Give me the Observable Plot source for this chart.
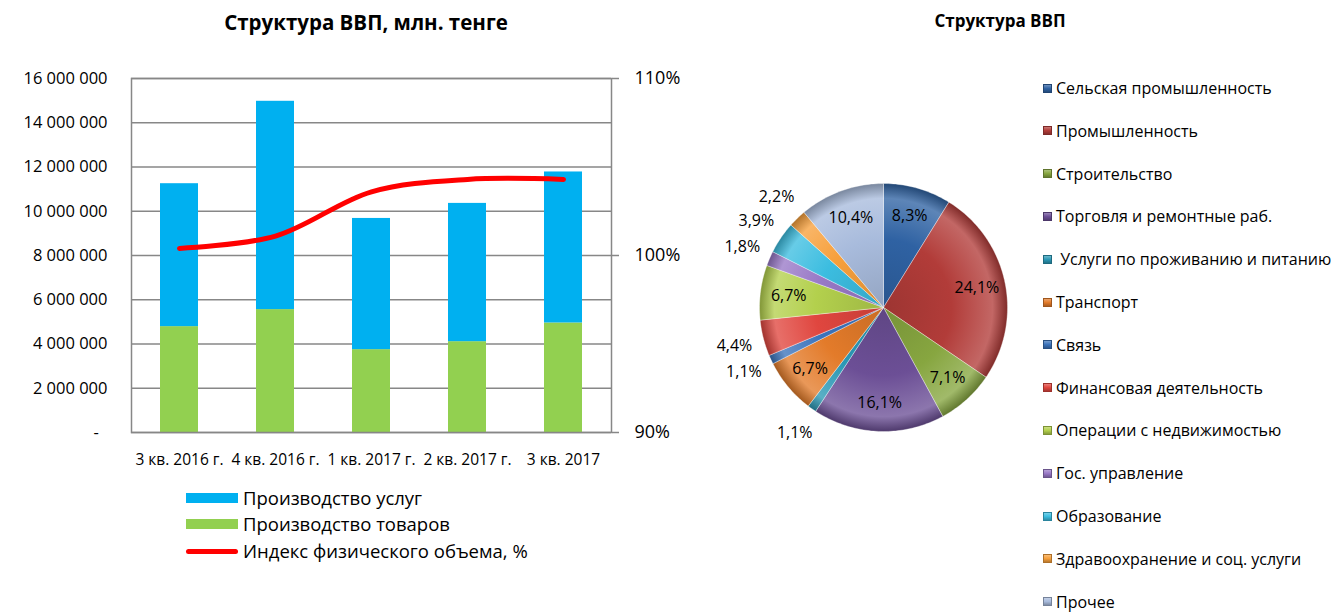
<!DOCTYPE html>
<html><head><meta charset="utf-8">
<script src="https://cdn.jsdelivr.net/npm/d3@7"></script>
<script src="https://cdn.jsdelivr.net/npm/@observablehq/plot@0.6"></script>
<style>
body{margin:0;width:1334px;height:613px;position:relative;background:#fff;font-family:"Open Sans",sans-serif;overflow:hidden;color:#000}
.abs{position:absolute}
#t1{left:166px;width:400px;top:8px;text-align:center;font-weight:bold;font-size:20.5px}
#t2{left:880px;width:240px;top:9px;text-align:center;font-weight:bold;font-size:17px}
#barsvg,#linesvg{left:0;top:40px}
#piesvg{left:703px;top:127px}
.lg{position:absolute;left:186px;font-size:18.5px;line-height:20px;display:flex;align-items:center}
.lg .sw{width:52px;height:10px;margin-right:5px}
.pl{position:absolute;left:1043px;font-size:16px;line-height:20px;display:flex;align-items:center;white-space:pre}
.pl .sq{width:9px;height:9px;margin-right:4px;box-sizing:border-box}
</style></head><body>
<div id="t1" class="abs">Структура ВВП, млн. тенге</div>
<div id="t2" class="abs">Структура ВВП</div>
<div id="barsvg" class="abs"></div>
<div id="linesvg" class="abs"></div>
<div id="piesvg" class="abs"></div>
<div id="leg1"></div>
<div id="leg2"></div>
<script>
// ---- data: left chart ----
const quarters = ["3 кв. 2016 г.", "4 кв. 2016 г.", "1 кв. 2017 г.", "2 кв. 2017 г.", "3 кв. 2017"];
const goods = [4785000, 5555000, 3745000, 4105000, 4950000];
const services = [6460000, 9415000, 5930000, 6250000, 6825000];
const volumeIndex = [100.4, 101.1, 103.6, 104.3, 104.3];
const yTicks = [0, 2000000, 4000000, 6000000, 8000000, 10000000, 12000000, 14000000, 16000000];
const pctTicks = [90, 100, 110];
const seriesNames = ["Производство услуг", "Производство товаров", "Индекс физического объема, %"];
const seriesColors = ["#00b0f0", "#92d050", "#ff0000"];

// ---- data: pie ----
const sectors = ["Сельская промышленность", "Промышленность", "Строительство", "Торговля и ремонтные раб.", " Услуги по проживанию и питанию", "Транспорт", "Связь", "Финансовая деятельность", "Операции с недвижимостью", "Гос. управление", "Образование", "Здравоохранение и соц. услуги", "Прочее"];
const shares = [8.3, 24.1, 7.1, 16.1, 1.1, 6.7, 1.1, 4.4, 6.7, 1.8, 3.9, 2.2, 10.4];
const sectorColors = ["#2f62a3", "#b23c39", "#87a640", "#6c4f96", "#2b98b5", "#e37b2a", "#3b73bb", "#e0463f", "#b3d04d", "#9878c6", "#3cbde0", "#f7a03c", "#a8bbdc"];

// ---- left chart ----
const W = 700, H = 430;
const mL = 131, mR = 89, mT = 38, mB = 38;
const rows = [];
quarters.forEach((q, i) => {
  rows.push({q, kind: seriesNames[1], v: goods[i]});
});
quarters.forEach((q, i) => {
  rows.push({q, kind: seriesNames[0], v: services[i]});
});
const fmt = d => d === 0 ? "-\u00a0\u00a0" : d3.format(",")(d).replace(/,/g, " ");
const xOpts = {domain: quarters, paddingInner: 0.6, paddingOuter: 0.3};

const bars = Plot.plot({
  width: W, height: H, marginLeft: mL, marginRight: mR, marginTop: mT, marginBottom: mB,
  style: {fontFamily: "Open Sans, sans-serif", fontSize: "16px", color: "#000", background: "transparent"},
  x: {...xOpts, label: null},
  y: {domain: [0, 16000000], label: null},
  color: {domain: [seriesNames[1], seriesNames[0]], range: [seriesColors[1], seriesColors[0]]},
  marks: [
    Plot.gridY(yTicks, {stroke: "#878787", strokeOpacity: 1, strokeWidth: 1.5}),
    Plot.barY(rows, {x: "q", y: "v", fill: "kind", order: [seriesNames[1], seriesNames[0]]}),
    Plot.frame({stroke: "#878787", strokeWidth: 1.5}),
    Plot.axisY({ticks: yTicks, tickFormat: fmt, tickSize: 0, tickPadding: 24, fontSize: 16.5}),
    Plot.axisX({tickSize: 0, tickPadding: 21, fontSize: 15.5})
  ]
});
document.getElementById("barsvg").append(bars);

const lineData = quarters.map((q, i) => ({q, v: volumeIndex[i]}));
const lines = Plot.plot({
  width: W, height: H, marginLeft: mL, marginRight: mR, marginTop: mT, marginBottom: mB,
  style: {fontFamily: "Open Sans, sans-serif", fontSize: "16px", color: "#000", background: "transparent"},
  x: {...xOpts, label: null, axis: null},
  y: {domain: [90, 110], label: null, axis: null},
  marks: [
    Plot.line(lineData, {x: "q", y: "v", stroke: seriesColors[2], strokeWidth: 5, curve: "catmull-rom", strokeLinecap: "round"}),
    Plot.axisY({anchor: "right", ticks: pctTicks, tickFormat: d => d + "%", tickSize: 7, tickPadding: 16, stroke: "#878787", strokeWidth: 1.5, fontSize: 18})
  ]
});
document.getElementById("linesvg").append(lines);

// legend left
const leg1 = document.getElementById("leg1");
const legTops = [488, 514, 541];
seriesNames.forEach((n, i) => {
  const d = document.createElement("div");
  d.className = "lg";
  d.style.top = legTops[i] + "px";
  const sw = document.createElement("span");
  sw.className = "sw";
  if (i === 2) { sw.style.height = "5px"; sw.style.borderRadius = "3px"; }
  sw.style.background = seriesColors[i];
  d.append(sw, document.createTextNode(n));
  leg1.append(d);
});

// ---- pie ----
const PW = 360, R = 124, C = PW / 2;
const ext = C / R;
const pie = d3.pie().sort(null).value(d => d)(shares);
const mix = (a, b, t) => d3.interpolateRgb(a, b)(t);
// gradients
const ns = "http://www.w3.org/2000/svg";
const defsSvg = document.createElementNS(ns, "svg");
defsSvg.setAttribute("width", 0); defsSvg.setAttribute("height", 0);
defsSvg.style.position = "absolute";
const defs = document.createElementNS(ns, "defs");
sectorColors.forEach((c, i) => {
  const g = document.createElementNS(ns, "radialGradient");
  g.setAttribute("id", "pg" + i);
  g.setAttribute("gradientUnits", "userSpaceOnUse");
  g.setAttribute("cx", C); g.setAttribute("cy", C); g.setAttribute("r", R);
  [[0, mix(c, "#000", 0.12)], [0.55, c], [0.88, mix(c, "#fff", 0.22)], [1, mix(c, "#000", 0.28)]].forEach(([o, col]) => {
    const s = document.createElementNS(ns, "stop");
    s.setAttribute("offset", o); s.setAttribute("stop-color", col);
    g.append(s);
  });
  defs.append(g);
});
defsSvg.append(defs);
document.body.append(defsSvg);

const sliceMarks = pie.map((a, i) => {
  const pts = [{x: 0, y: 0}];
  const n = Math.max(4, Math.ceil((a.endAngle - a.startAngle) / 0.02));
  for (let k = 0; k <= n; k++) {
    const t = a.startAngle + (a.endAngle - a.startAngle) * k / n;
    pts.push({x: Math.sin(t), y: Math.cos(t)});
  }
  pts.push({x: 0, y: 0});
  return Plot.line(pts, {x: "x", y: "y", fill: `url(#pg${i})`, stroke: "rgba(255,255,255,0.35)", strokeWidth: 1, curve: "linear"});
});
const labels = pie.map((a, i) => {
  const m = (a.startAngle + a.endAngle) / 2;
  const r = shares[i] >= 6 ? 0.77 : 1.24;
  return {x: Math.sin(m) * r, y: Math.cos(m) * r, t: d3.format(".1f")(shares[i]).replace(".", ",") + "%"};
});
const pieChart = Plot.plot({
  width: PW, height: PW, margin: 0,
  style: {fontFamily: "Open Sans, sans-serif", background: "transparent"},
  x: {domain: [-ext, ext], axis: null},
  y: {domain: [-ext, ext], axis: null},
  marks: [
    ...sliceMarks,
    Plot.text(labels, {x: "x", y: "y", text: "t", fontSize: 16, fill: "#000"})
  ]
});
document.getElementById("piesvg").append(pieChart);

// pie legend
const leg2 = document.getElementById("leg2");
sectors.forEach((n, i) => {
  const d = document.createElement("div");
  d.className = "pl";
  d.style.top = (78 + 42.8 * i) + "px";
  const sq = document.createElement("span");
  sq.className = "sq";
  const c = sectorColors[i];
  sq.style.background = `linear-gradient(to bottom, ${mix(c, "#fff", 0.3)}, ${c} 50%, ${mix(c, "#000", 0.25)})`;
  sq.style.border = `1px solid ${mix(c, "#000", 0.3)}`;
  d.append(sq, document.createTextNode(n));
  leg2.append(d);
});
</script>
</body></html>
